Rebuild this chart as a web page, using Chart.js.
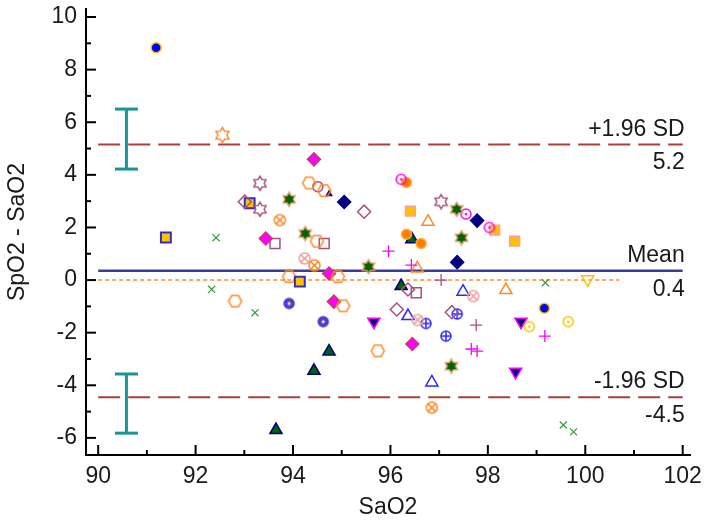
<!DOCTYPE html>
<html>
<head>
<meta charset="utf-8">
<script src="https://cdn.jsdelivr.net/npm/chart.js@4/dist/chart.umd.min.js"></script>
<style>
body{margin:0;background:#fff;}
canvas{display:block;}
</style>
</head>
<body>
<canvas id="c" width="714" height="525"></canvas>
<script>
// axis ticks
const xTicks = [90, 92, 94, 96, 98, 100, 102];
const xMinor = [91, 93, 95, 97, 99, 101];
const yTicks = [-6, -4, -2, 0, 2, 4, 6, 8, 10];
const yMinor = [-5, -3, -1, 1, 3, 5, 7, 9];

// Bland-Altman limits: +1.96 SD, mean, -1.96 SD
const limitValues = [5.15, 0.35, -4.45];
const limitNames = ['+1.96 SD', 'Mean', '-1.96 SD'];
const limitTexts = ['5.2', '0.4', '-4.5'];
const ciX = 90.58;
const upperCI = [4.22, 6.5];
const lowerCI = [-5.82, -3.57];
const zeroLine = [90, 100.7];

// points, [SaO2, SpO2 - SaO2], grouped by marker
const blueDots = [[91.19, 8.83], [99.16, -1.07]];
const orangeStar = [[92.55, 5.51]];
const mauveStars = [[93.32, 3.68], [93.32, 2.69], [97.04, 2.98]];
const mauveDiamonds = [[93.01, 2.98], [95.46, 2.60], [96.36, -0.36], [96.13, -1.12], [97.26, -1.22]];
const yellowSquaresBlue = [[91.39, 1.62], [93.11, 2.92], [94.14, -0.06]];
const greenStars = [[93.92, 3.07], [94.25, 1.77], [95.55, 0.51], [97.36, 2.69], [97.46, 1.61], [97.25, -3.27]];
const orangeHexagons = [[94.33, 3.69], [94.64, 3.40], [94.49, 1.48], [93.92, 0.13], [94.92, 0.13], [92.81, -0.80], [95.03, -0.98], [95.74, -2.69]];
const mauveCircles = [[94.51, 3.55]];
const navySmall = [[94.74, 3.27]];
const navyDiamonds = [[95.05, 2.97], [97.78, 2.26], [97.37, 0.68]];
const magentaDiamonds = [[94.43, 4.59], [93.44, 1.58], [94.74, 0.25], [94.84, -0.82], [96.45, -2.43]];
const orangeFlowers = [[93.73, 2.28], [94.44, 0.56], [96.85, -4.85]];
const pinkFlowers = [[94.24, 0.82], [97.70, -0.61], [96.56, -1.52]];
const yellowFlowers = [[98.85, -1.77], [99.65, -1.58]];
const mauveSquares = [[93.63, 1.39], [94.64, 1.39], [96.53, -0.48]];
const greenCrosses = [[92.42, 1.61], [92.33, -0.35], [93.22, -1.24], [99.18, -0.10], [99.55, -5.51], [99.76, -5.77]];
const magentaPlus = [[95.96, 1.10], [96.43, 0.57], [97.66, -2.62], [97.78, -2.70], [99.17, -2.13]];
const mauvePlus = [[97.04, 0.0], [97.76, -1.71]];
const magentaRings = [[96.22, 3.83], [97.55, 2.51], [98.03, 2.00]];
const orangeDots = [[96.33, 3.71], [96.33, 1.74], [96.63, 1.39]];
const yellowSquaresPink = [[96.41, 2.62], [98.14, 1.90], [98.55, 1.48]];
const orangeTriangles = [[96.77, 2.22], [96.55, 0.44], [98.37, -0.38]];
const greenTriangles = [[96.44, 1.55], [96.22, -0.23], [94.74, -2.72], [94.43, -3.45], [93.65, -5.70]];
const blueTriangles = [[97.49, -0.44], [96.36, -1.37], [96.85, -3.89]];
const blueCirclePlus = [[96.73, -1.65], [97.37, -1.29], [97.14, -2.13]];
const violetDots = [[93.92, -0.89], [94.62, -1.58]];
const navyDownTriangles = [[95.66, -1.58], [98.68, -1.58], [98.57, -3.49]];
const yellowDownTriangles = [[100.05, 0.03]];

const FONT = "'Liberation Sans', Arial, sans-serif";

// small canvases for markers Chart.js does not have
function symbol(kind, stroke, fill, size) {
  const s = size + 4;
  const c = document.createElement('canvas');
  c.width = s; c.height = s;
  const g = c.getContext('2d');
  const m = s / 2, r = size / 2;
  g.lineWidth = 1.5;
  g.strokeStyle = stroke;
  g.fillStyle = fill || stroke;
  g.beginPath();
  if (kind === 'hex') {
    for (let i = 0; i < 6; i++) {
      const a = Math.PI / 3 * i;
      g.lineTo(m + r * Math.cos(a), m + r * Math.sin(a));
    }
    g.closePath();
  } else if (kind === 'star6') {
    for (let i = 0; i < 12; i++) {
      const a = Math.PI / 6 * i - Math.PI / 2;
      const rr = i % 2 ? r * 0.6 : r;
      g.lineTo(m + rr * Math.cos(a), m + rr * Math.sin(a));
    }
    g.closePath();
  } else {
    g.arc(m, m, r, 0, Math.PI * 2);
  }
  if (fill) g.fill();
  g.stroke();
  if (kind === 'ring') {
    g.beginPath(); g.arc(m, m, 1.3, 0, Math.PI * 2); g.fillStyle = stroke; g.fill();
  }
  if (kind === 'cplus') {
    g.beginPath();
    g.moveTo(m - r, m); g.lineTo(m + r, m);
    g.moveTo(m, m - r); g.lineTo(m, m + r);
    g.stroke();
  }
  if (kind === 'flower') {
    g.beginPath();
    const d = r * 0.7;
    g.moveTo(m - d, m - d); g.lineTo(m + d, m + d);
    g.moveTo(m + d, m - d); g.lineTo(m - d, m + d);
    g.stroke();
  }
  if (kind === 'vdot') {
    g.beginPath(); g.arc(m, m, 1.5, 0, Math.PI * 2); g.fillStyle = '#fff'; g.fill();
  }
  return c;
}

const pts = list => list.map(p => ({x: p[0], y: p[1]}));
function marks(list, style, color, fill, radius, extra) {
  return Object.assign({
    data: pts(list),
    pointStyle: style,
    borderColor: color,
    backgroundColor: fill || 'rgba(0,0,0,0)',
    pointRadius: radius,
    pointBorderWidth: 1.5,
    showLine: false,
    order: 1
  }, extra || {});
}
function hline(v, x0, x1, color, width, dash) {
  return {
    data: [{x: x0, y: v}, {x: x1, y: v}],
    showLine: true, borderColor: color, borderWidth: width, borderDash: dash,
    pointRadius: 0, order: 10
  };
}
function ciBar(range) {
  return {
    data: [{x: ciX, y: range[0]}, {x: ciX, y: range[1]}],
    showLine: true, borderColor: '#1b9494', borderWidth: 3,
    pointStyle: 'line', pointRadius: 11.5, pointBorderWidth: 3,
    pointBorderColor: '#1b9494', order: 10
  };
}

const ORANGE = '#ff8a2a', MAUVE = '#a9507e', GREEN = '#006400', NAVY = '#000080',
      MAGENTA = '#ff00ff', BLUE = '#2a2aff', YELLOW = '#ffc000', PINK = '#f2a0a0';

const datasets = [
  marks(blueDots, 'circle', '#ffc000', '#0000ff', 5),
  marks(orangeStar, symbol('star6', ORANGE, null, 15), ORANGE),
  marks(mauveStars, symbol('star6', MAUVE, null, 14), MAUVE),
  marks(mauveDiamonds, 'rectRot', MAUVE, null, 6.5),
  marks(yellowSquaresBlue, 'rect', '#3030c0', YELLOW, 7, {pointBorderWidth: 2}),
  marks(greenStars, symbol('star6', '#e0a070', GREEN, 14), GREEN),
  marks(orangeHexagons, symbol('hex', ORANGE, null, 13), ORANGE),
  marks(mauveCircles, 'circle', MAUVE, null, 5),
  marks(navySmall, 'triangle', NAVY, NAVY, 3),
  marks(navyDiamonds, 'rectRot', NAVY, NAVY, 6.5),
  marks(magentaDiamonds, 'rectRot', '#c04060', MAGENTA, 6.5),
  marks(orangeFlowers, symbol('flower', ORANGE, null, 11), ORANGE),
  marks(pinkFlowers, symbol('flower', PINK, null, 11), PINK),
  marks(yellowFlowers, symbol('ring', YELLOW, null, 10), YELLOW),
  marks(mauveSquares, 'rect', MAUVE, null, 7),
  marks(greenCrosses, 'crossRot', '#3a9a3a', null, 5, {pointBorderWidth: 1.2}),
  marks(magentaPlus, 'cross', MAGENTA, null, 6, {pointBorderWidth: 1.3}),
  marks(mauvePlus, 'cross', MAUVE, null, 6, {pointBorderWidth: 1.3}),
  marks(magentaRings, symbol('ring', MAGENTA, null, 10), MAGENTA),
  marks(orangeDots, 'circle', '#ffb030', '#ff7a00', 5),
  marks(yellowSquaresPink, 'rect', '#f6a0a0', YELLOW, 7),
  marks(orangeTriangles, 'triangle', ORANGE, null, 7),
  marks(greenTriangles, 'triangle', NAVY, GREEN, 7),
  marks(blueTriangles, 'triangle', BLUE, null, 7),
  marks(blueCirclePlus, symbol('cplus', BLUE, null, 10), BLUE),
  marks(violetDots, symbol('vdot', '#4a3acc', '#5a3acc', 10), '#5a3acc'),
  marks(navyDownTriangles, 'triangle', MAGENTA, NAVY, 7, {pointRotation: 180}),
  marks(yellowDownTriangles, 'triangle', YELLOW, null, 7, {pointRotation: 180}),
  hline(limitValues[0], 90, 102, '#a8403c', 2, [22, 8]),
  hline(limitValues[1], 90, 102, '#3c3c9c', 2.5, []),
  hline(limitValues[2], 90, 102, '#a8403c', 2, [22, 8]),
  hline(0, zeroLine[0], zeroLine[1], ORANGE, 1.5, [4, 3]),
  ciBar(upperCI),
  ciBar(lowerCI)
];

// inward major/minor ticks and the limit captions
const extras = {
  id: 'extras',
  afterDatasetsDraw(chart) {
    const {ctx, chartArea: a, scales: {x, y}} = chart;
    ctx.save();
    ctx.strokeStyle = '#000';
    ctx.lineWidth = 2;
    const tick = (x0, y0, x1, y1) => { ctx.beginPath(); ctx.moveTo(x0, y0); ctx.lineTo(x1, y1); ctx.stroke(); };
    xTicks.forEach(v => { const p = x.getPixelForValue(v); tick(p, a.bottom, p, a.bottom - 10); });
    xMinor.forEach(v => { const p = x.getPixelForValue(v); tick(p, a.bottom, p, a.bottom - 5); });
    yTicks.forEach(v => { const p = y.getPixelForValue(v); tick(a.left, p, a.left + 10, p); });
    yMinor.forEach(v => { const p = y.getPixelForValue(v); tick(a.left, p, a.left + 5, p); });

    ctx.fillStyle = '#1a1a1a';
    ctx.font = '23px ' + FONT;
    ctx.textAlign = 'right';
    const xr = x.getPixelForValue(102) + 2;
    limitValues.forEach((v, i) => {
      const p = y.getPixelForValue(v);
      ctx.textBaseline = 'alphabetic';
      ctx.fillText(limitNames[i], xr, p - 9);
      ctx.textBaseline = 'top';
      ctx.fillText(limitTexts[i], xr, p + 7);
    });
    ctx.restore();
  }
};

new Chart(document.getElementById('c'), {
  type: 'scatter',
  data: {datasets},
  options: {
    responsive: false,
    animation: false,
    events: [],
    layout: {autoPadding: false, padding: {top: 5, right: 24, left: 0, bottom: 0}},
    plugins: {legend: {display: false}, tooltip: {enabled: false}},
    scales: {
      x: {
        type: 'linear', min: 89.75, max: 102.15,
        afterBuildTicks: s => { s.ticks = xTicks.map(v => ({value: v})); },
        afterFit: s => { s.height = 70; },
        grid: {display: false, drawTicks: false},
        border: {display: true, color: '#000', width: 2},
        ticks: {color: '#1a1a1a', padding: 8, font: {family: FONT, size: 23}},
        title: {display: true, text: 'SaO2', color: '#1a1a1a', font: {family: FONT, size: 23}, padding: {top: 4}}
      },
      y: {
        type: 'linear', min: -6.65, max: 10.3,
        afterBuildTicks: s => { s.ticks = yTicks.map(v => ({value: v})); },
        afterFit: s => { s.width = 86; },
        grid: {display: false, drawTicks: false},
        border: {display: true, color: '#000', width: 2},
        ticks: {color: '#1a1a1a', padding: 9, font: {family: FONT, size: 23, lineHeight: 0.01}},
        title: {display: true, text: 'SpO2 - SaO2', color: '#1a1a1a', font: {family: FONT, size: 23}, padding: {bottom: 0}}
      }
    }
  },
  plugins: [extras]
});
</script>
</body>
</html>
